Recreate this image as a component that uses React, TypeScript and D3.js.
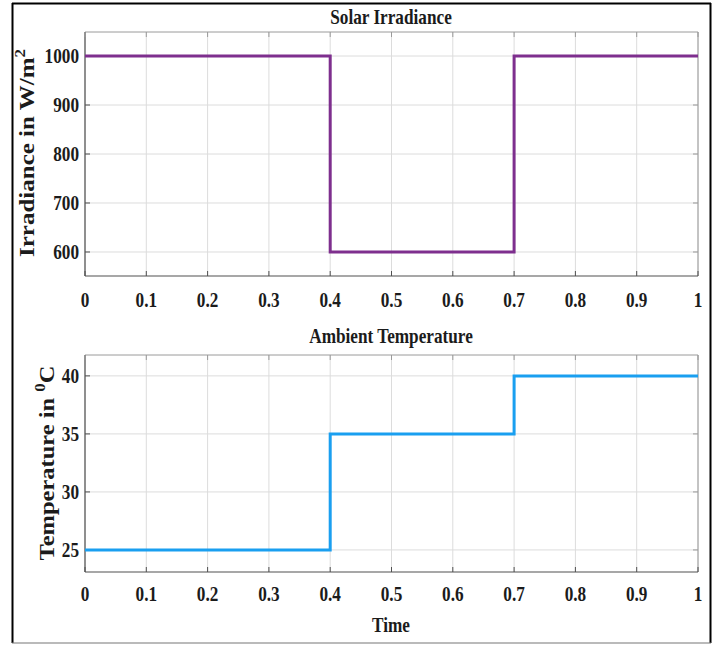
import React from "react";
import * as d3 from "d3";

// Breakpoints of the two step inputs
const times = [0, 0.4, 0.7, 1];
const irradiance = [1000, 600, 1000, 1000];
const temperature = [25, 35, 40, 40];

const xTicks = [0, 0.1, 0.2, 0.3, 0.4, 0.5, 0.6, 0.7, 0.8, 0.9, 1];
const irrTicks = [600, 700, 800, 900, 1000];
const tempTicks = [25, 30, 35, 40];

const W = 719;
const H = 645;
const FONT = "'Liberation Serif', 'Times New Roman', serif";
const SX = 0.82; // horizontal squeeze of the figure text
const FS = 21;
const TXT = "#1b1b1b";

type TProps = {
  x: number;
  y: number;
  anchor?: "start" | "middle" | "end";
  rotate?: boolean;
  size?: number;
  children: React.ReactNode;
};

function T({ x, y, anchor = "middle", rotate = false, size = FS, children }: TProps) {
  return (
    <text
      transform={`translate(${x},${y}) scale(${SX},1)${rotate ? " rotate(-90)" : ""}`}
      textAnchor={anchor}
      fontFamily={FONT}
      fontWeight="bold"
      fontSize={size}
      fill={TXT}
    >
      {children}
    </text>
  );
}

type PanelProps = {
  top: number;
  bottom: number;
  domain: [number, number];
  yTicks: number[];
  values: number[];
  color: string;
  xLabelY: number;
};

function Panel({ top, bottom, domain, yTicks, values, color, xLabelY }: PanelProps) {
  const left = 85;
  const right = 698;
  const x = d3.scaleLinear().domain([0, 1]).range([left, right]);
  const y = d3.scaleLinear().domain(domain).range([bottom, top]);
  const line = d3
    .line<number>()
    .x((_, i) => x(times[i]))
    .y((d) => y(d))
    .curve(d3.curveStepAfter);
  const grid = "#dcdcdc";
  const axisDark = "#505050";
  const axisLight = "#9a9a9a";
  const tl = 5;
  return (
    <g>
      {xTicks.map((t) => (
        <line key={"gx" + t} x1={x(t)} x2={x(t)} y1={top} y2={bottom} stroke={grid} strokeWidth={1} />
      ))}
      {yTicks.map((t) => (
        <line key={"gy" + t} x1={left} x2={right} y1={y(t)} y2={y(t)} stroke={grid} strokeWidth={1} />
      ))}
      {/* box */}
      <line x1={left} x2={right} y1={top} y2={top} stroke={axisLight} strokeWidth={1} />
      <line x1={right} x2={right} y1={top} y2={bottom} stroke={axisLight} strokeWidth={1} />
      <line x1={left} x2={right} y1={bottom} y2={bottom} stroke={axisDark} strokeWidth={1.2} />
      <line x1={left} x2={left} y1={top} y2={bottom} stroke={axisDark} strokeWidth={1.2} />
      {/* ticks */}
      {xTicks.map((t) => (
        <g key={"tx" + t}>
          <line x1={x(t)} x2={x(t)} y1={bottom} y2={bottom - tl} stroke={axisDark} />
          <line x1={x(t)} x2={x(t)} y1={top} y2={top + tl} stroke={axisLight} />
        </g>
      ))}
      {yTicks.map((t) => (
        <g key={"ty" + t}>
          <line x1={left} x2={left + tl} y1={y(t)} y2={y(t)} stroke={axisDark} />
          <line x1={right} x2={right - tl} y1={y(t)} y2={y(t)} stroke={axisLight} />
        </g>
      ))}
      {/* signal */}
      <path d={line(values) ?? ""} fill="none" stroke={color} strokeWidth={3} />
      {/* tick labels */}
      {xTicks.map((t) => (
        <T key={"lx" + t} x={x(t)} y={xLabelY}>
          {String(t)}
        </T>
      ))}
      {yTicks.map((t) => (
        <T key={"ly" + t} x={79} y={y(t) + 7} anchor="end">
          {String(t)}
        </T>
      ))}
    </g>
  );
}

export default function App() {
  return (
    <svg
      width={W}
      height={H}
      viewBox={`0 0 ${W} ${H}`}
      style={{ position: "absolute", left: 0, top: 0, display: "block", background: "#fff" }}
    >
      <rect x={0} y={0} width={W} height={H} fill="#fff" />
      {/* outer frame */}
      <line x1={12} x2={711} y1={3.5} y2={3.5} stroke="#000" strokeWidth={2} />
      <line x1={12.5} x2={12.5} y1={3} y2={643} stroke="#000" strokeWidth={2} />
      <line x1={710.5} x2={710.5} y1={3} y2={643} stroke="#000" strokeWidth={2} />
      <line x1={12} x2={711} y1={643} y2={643} stroke="#777" strokeWidth={1.2} />

      <Panel
        top={32}
        bottom={276}
        domain={[551, 1049]}
        yTicks={irrTicks}
        values={irradiance}
        color="#7e2f8e"
        xLabelY={307}
      />
      <Panel
        top={355}
        bottom={572}
        domain={[23.1, 41.8]}
        yTicks={tempTicks}
        values={temperature}
        color="#1a9ff0"
        xLabelY={601}
      />

      <T x={391} y={24}>Solar Irradiance</T>
      <T x={391} y={343}>Ambient Temperature</T>
      <T x={391} y={632}>Time</T>

      <T x={34} y={153} rotate size={25}>
        Irradiance in W/m
        <tspan dy={-11} fontSize={17}>2</tspan>
      </T>
      <T x={54} y={463} rotate size={24.5}>
        Temperature in <tspan dy={-11} fontSize={17}>0</tspan>
        <tspan dy={11}>C</tspan>
      </T>
    </svg>
  );
}
